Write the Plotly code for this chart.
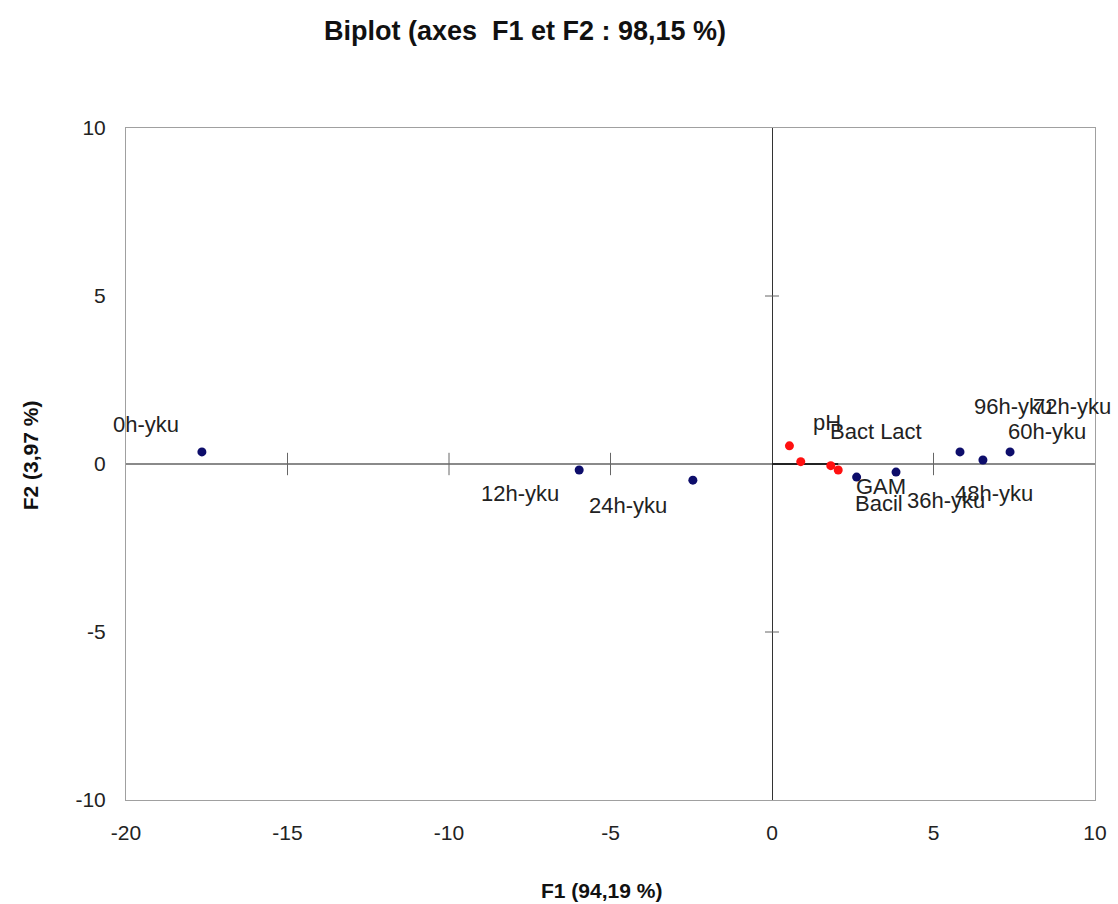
import plotly.graph_objects as go

# Observations (blue)
obs_names = ["0h-yku", "12h-yku", "24h-yku", "36h-yku", "48h-yku", "60h-yku", "72h-yku", "96h-yku"]
obs_f1 = [-17.65, -5.97, -2.45, 2.62, 3.84, 5.82, 6.53, 7.37]
obs_f2 = [0.36, -0.18, -0.48, -0.39, -0.24, 0.36, 0.12, 0.36]

# Variables (red)
var_names = ["pH", "Bact Lact", "GAM", "Bacil"]
var_f1 = [0.54, 0.89, 1.82, 2.05]
var_f2 = [0.54, 0.07, -0.05, -0.18]

x_ticks = [-20, -15, -10, -5, 0, 5, 10]
y_ticks = [-10, -5, 0, 5, 10]
x_minor_marks = [-15, -10, -5, 5]
y_minor_marks = [-5, 5]

# label offsets in pixels (layout only)
obs_shift = [(-56, 27), (-59, -23), (-65, -25), (89, -23), (98, -21), (87, 20), (89, 53), (3, 45)]
var_shift = [(38, 23), (75, 30), (50, -21), (41, -33)]

FONT = "Liberation Sans, Arial, sans-serif"

fig = go.Figure()

# tick marks on the zero axes
fig.add_trace(go.Scatter(x=x_minor_marks, y=[0] * len(x_minor_marks), mode="markers",
                         marker=dict(symbol="line-ns-open", size=16, color="#666666",
                                     line=dict(color="#666666", width=1)),
                         hoverinfo="skip", showlegend=False))
fig.add_trace(go.Scatter(x=[0] * len(y_minor_marks), y=y_minor_marks, mode="markers",
                         marker=dict(symbol="line-ew-open", size=10, color="#666666",
                                     line=dict(color="#666666", width=1)),
                         hoverinfo="skip", showlegend=False))

# short black segment along F1 from the origin (variables' extent)
fig.add_trace(go.Scatter(x=[0, max(var_f1)], y=[0, 0], mode="lines",
                         line=dict(color="black", width=1.5),
                         hoverinfo="skip", showlegend=False))

fig.add_trace(go.Scatter(x=obs_f1, y=obs_f2, mode="markers", text=obs_names,
                         marker=dict(color="#0d0d6b", size=9), showlegend=False))
fig.add_trace(go.Scatter(x=var_f1, y=var_f2, mode="markers", text=var_names,
                         marker=dict(color="#ff1010", size=9), showlegend=False))

annotations = []
for n, x, y, (dx, dy) in zip(obs_names, obs_f1, obs_f2, obs_shift):
    annotations.append(dict(x=x, y=y, text=n, showarrow=False, xshift=dx, yshift=dy,
                            font=dict(family=FONT, size=22, color="#222222")))
for n, x, y, (dx, dy) in zip(var_names, var_f1, var_f2, var_shift):
    annotations.append(dict(x=x, y=y, text=n, showarrow=False, xshift=dx, yshift=dy,
                            font=dict(family=FONT, size=22, color="#222222")))

# axis titles
annotations.append(dict(xref="paper", yref="paper", x=0.491, y=-0.1354, xanchor="center",
                        yanchor="middle", showarrow=False, text="<b>F1 (94,19 %)</b>",
                        font=dict(family=FONT, size=21, color="#111111")))
annotations.append(dict(xref="paper", yref="paper", x=-0.0991, y=0.513, xanchor="center",
                        yanchor="middle", showarrow=False, textangle=-90, text="<b>F2 (3,97 %)</b>",
                        font=dict(family=FONT, size=21, color="#111111")))

W, H = 1118, 904
fig.update_layout(
    width=W, height=H,
    paper_bgcolor="white", plot_bgcolor="white",
    margin=dict(l=126, r=23, t=128, b=104, autoexpand=False),
    title=dict(text="<b>Biplot (axes  F1 et F2 : 98,15 %)</b>", x=525 / W, xanchor="center",
               y=1 - 31 / H, yanchor="middle",
               font=dict(family=FONT, size=27, color="#111111")),
    annotations=annotations,
    hovermode="closest",
)
fig.update_xaxes(range=[-20, 10], tickvals=x_ticks, ticktext=[str(v) for v in x_ticks],
                 automargin=False,
                 showgrid=False, zeroline=True, zerolinecolor="#333333", zerolinewidth=1,
                 showline=True, mirror=True, linecolor="#a0a0a0", linewidth=1,
                 ticks="outside", ticklen=14, tickcolor="rgba(0,0,0,0)",
                 tickfont=dict(family=FONT, size=21, color="#222222"))
fig.update_yaxes(range=[-10, 10], tickvals=y_ticks, ticktext=[str(v) for v in y_ticks],
                 automargin=False,
                 showgrid=False, zeroline=True, zerolinecolor="#8a8a8a", zerolinewidth=2,
                 showline=True, mirror=True, linecolor="#a0a0a0", linewidth=1,
                 ticks="outside", ticklen=15, tickcolor="rgba(0,0,0,0)",
                 tickfont=dict(family=FONT, size=21, color="#222222"))

post = (
    "document.documentElement.style.margin='0';"
    "document.body.style.margin='0';document.body.style.overflow='hidden';"
)
fig.write_html("out.html", post_script=post, config={"displayModeBar": False})
